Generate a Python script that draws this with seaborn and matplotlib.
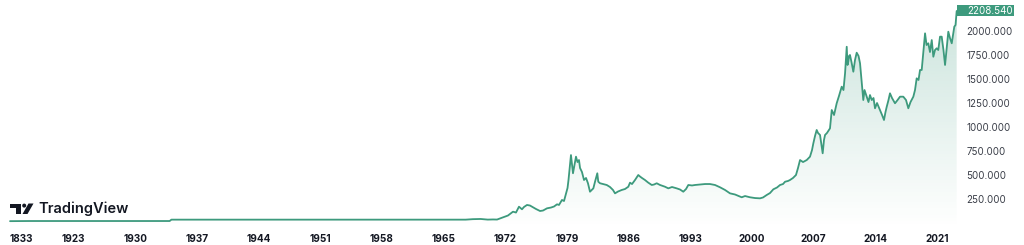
import numpy as np
import pandas as pd
import matplotlib
matplotlib.use("Agg")
import matplotlib.pyplot as plt
import matplotlib.transforms as mtransforms
from matplotlib.patches import Polygon, Rectangle, Circle
import seaborn as sns

# ---------------- data ----------------
years = [1833, 1860, 1900, 1923, 1933.9, 1934.1, 1950, 1967.5, 1968.3, 1969.2, 1970.0, 1970.6,
         1971.06, 1971.74, 1972.30, 1972.87, 1973.21, 1973.55, 1973.89, 1974.12, 1974.46, 1974.80,
         1975.03, 1975.48, 1975.94, 1976.28, 1976.73, 1977.18, 1977.53, 1977.87, 1978.09, 1978.43,
         1978.66, 1978.89, 1979.06, 1979.17, 1979.34, 1979.45, 1979.57, 1979.68, 1979.85, 1980.02,
         1980.19, 1980.36, 1980.48, 1980.70, 1980.93, 1981.16, 1981.38, 1981.61, 1981.80, 1981.99,
         1982.18, 1982.44, 1982.55, 1982.75, 1983.09, 1983.51, 1983.88, 1984.22, 1984.45, 1984.79,
         1985.21, 1985.58, 1985.96, 1986.15, 1986.38, 1986.72, 1987.09, 1987.29, 1987.51, 1987.85,
         1988.20, 1988.62, 1988.88, 1989.18, 1989.56, 1990.12, 1990.50, 1990.92, 1991.45, 1991.83,
         1992.20, 1992.51, 1992.77, 1993.19, 1993.53, 1994.10, 1994.67, 1995.23, 1995.80, 1996.37,
         1996.94, 1997.50, 1998.07, 1998.83, 1999.21, 1999.77, 2000.34, 2000.91, 2001.25, 2001.67,
         2002.04, 2002.42, 2002.84, 2003.18, 2003.52, 2003.75, 2004.09, 2004.31, 2004.65, 2004.99,
         2005.22, 2005.45, 2005.79, 2006.21, 2006.58, 2006.81, 2006.96, 2007.15, 2007.34, 2007.49,
         2007.72, 2007.89, 2008.02, 2008.17, 2008.29, 2008.51, 2008.85, 2009.05, 2009.31, 2009.61,
         2009.87, 2010.18, 2010.38, 2010.56, 2010.75, 2010.84, 2010.93, 2011.01, 2011.12, 2011.29,
         2011.50, 2011.69, 2011.88, 2012.09, 2012.26, 2012.43, 2012.63, 2012.77, 2013.02, 2013.22,
         2013.39, 2013.59, 2013.79, 2013.96, 2014.19, 2014.53, 2014.76, 2014.98, 2015.15, 2015.29,
         2015.49, 2015.66, 2015.89, 2016.23, 2016.52, 2016.80, 2017.17, 2017.48, 2017.74, 2017.99,
         2018.31, 2018.50, 2018.69, 2018.90, 2019.07, 2019.26, 2019.47, 2019.64, 2019.81, 2020.01,
         2020.20, 2020.40, 2020.58, 2020.77, 2020.96, 2021.14, 2021.34, 2021.53, 2021.73, 2021.91,
         2022.08, 2022.28, 2022.47, 2022.67, 2022.81, 2022.96, 2023.10, 2023.23]

prices = [19.4, 20.7, 20.7, 20.7, 20.7, 35, 35, 35, 40, 42, 35.5, 37,
          36, 59, 78, 118, 109, 170, 143, 167, 188, 182,
          170, 146, 125, 130, 153, 161, 172, 195, 188, 240,
          229, 309, 365, 448, 604, 708, 604, 518, 604, 691,
          635, 656, 573, 531, 448, 469, 414, 326, 344, 361,
          430, 518, 430, 414, 406, 396, 375, 344, 309, 328,
          344, 354, 378, 420, 406, 448, 500, 484, 469, 448,
          422, 396, 401, 414, 396, 378, 361, 375, 361, 349,
          326, 354, 396, 391, 396, 401, 406, 406, 396, 372,
          344, 309, 297, 268, 281, 268, 260, 257, 266, 292,
          312, 351, 370, 396, 406, 430, 438, 448, 469, 500,
          573, 656, 635, 656, 691, 760, 830, 906, 969, 938,
          917, 813, 726, 865, 917, 938, 986, 1177, 1125, 1247,
          1323, 1420, 1385, 1559, 1836, 1646, 1680, 1740, 1750, 1677,
          1576, 1698, 1774, 1740, 1664, 1490, 1281, 1385, 1316, 1260,
          1333, 1281, 1302, 1195, 1250, 1177, 1125, 1073, 1156, 1211,
          1281, 1351, 1302, 1247, 1281, 1316, 1316, 1281, 1195, 1260,
          1316, 1385, 1507, 1490, 1594, 1594, 1802, 1976, 1854, 1872,
          1781, 1906, 1732, 1802, 1820, 1802, 1941, 1941, 1802, 1646,
          1802, 1993, 1927, 1872, 1958, 2045, 2063, 2208.54]

tick_years = [1833, 1923, 1930, 1937, 1944, 1951, 1958, 1965, 1972, 1979,
              1986, 1993, 2000, 2007, 2014, 2021]
tick_labels = [str(y) for y in tick_years]
price_ticks = [250, 500, 750, 1000, 1250, 1500, 1750, 2000]
last_price = 2208.54

assert len(years) == len(prices)
df = pd.DataFrame({"year": years, "price": prices})

# ---------------- style ----------------
GREEN = "#3d9a7d"
TEXT = "#131722"
sns.set_style("white")
plt.rcParams["font.family"] = ["Inter", "DejaVu Sans"]

W, H = 1024, 245
fig = plt.figure(figsize=(W / 100, H / 100), dpi=100)
fig.patch.set_facecolor("white")
ax = fig.add_axes([0, 17 / H, 958 / W, 228 / H])

# compressed time axis before 1923 (TradingView bar-index style)
BREAK, K = 1923.0, 0.0802


def fwd(x):
    x = np.asarray(x, dtype=float)
    return np.where(x < BREAK, BREAK - (BREAK - x) * K, x)


def inv(t):
    t = np.asarray(t, dtype=float)
    return np.where(t < BREAK, BREAK - (BREAK - t) / K, t)


ax.set_xscale("function", functions=(fwd, inv))

YMIN, YMAX = -52, 2323
XMIN, XMAX = 1818.8, 2023.38

sns.lineplot(data=df, x="year", y="price", ax=ax, color=GREEN, lw=1.3,
             estimator=None, sort=False, zorder=3)

# gradient area fill
poly = ax.fill_between(df["year"], df["price"], YMIN, color="none", lw=0)
grad = np.zeros((256, 1, 4))
rgb = matplotlib.colors.to_rgb(GREEN)
grad[..., 0], grad[..., 1], grad[..., 2] = rgb
grad[:, 0, 3] = np.linspace(0.0, 0.28, 256)
img = ax.imshow(grad, extent=[0, 1, 0, 1], transform=ax.transAxes,
                origin="lower", aspect="auto", zorder=1, interpolation="bilinear")
clip = poly.get_paths()[0]
img.set_clip_path(clip, transform=ax.transData)

ax.set_xlim(XMIN, XMAX)
ax.set_ylim(YMIN, YMAX)
ax.set_aspect("auto")

for s in ax.spines.values():
    s.set_visible(False)

# x ticks
ax.set_xticks(tick_years)
ax.set_xticklabels(tick_labels, fontsize=7.2, fontweight="bold", color=TEXT)
ax.tick_params(axis="x", length=0, pad=4.0)
ax.get_xticklabels()[0].set_horizontalalignment("left")

# y ticks on the right
ax.yaxis.tick_right()
ax.set_yticks(price_ticks)
ax.set_yticklabels([f"{v:.3f}" for v in price_ticks], fontsize=7.0, color="#3a3e48")
ax.tick_params(axis="y", length=0, pad=6)
ax.set_xlabel("")
ax.set_ylabel("")
ax.grid(False)

# last price label
blend = mtransforms.blended_transform_factory(ax.transAxes, ax.transData)
box_h = 11 / 0.096
ax.add_patch(Rectangle((0.999, last_price - box_h / 2), 57 / 958, box_h,
                       transform=blend, clip_on=False, color=GREEN, lw=0, zorder=5))
ax.text(1.0 + 9 / 958, last_price, f"{last_price:.3f}", transform=blend,
        ha="left", va="center", fontsize=7.0, color="white", zorder=6, clip_on=False)

# TradingView watermark (pixel coordinates, top-down)
pix = mtransforms.Affine2D().scale(1 / W, -1 / H).translate(0, 1) + fig.transFigure
fig.patches.append(Polygon([(10, 203.5), (21, 203.5), (21, 214), (15.5, 214), (15.5, 207.5), (10, 207.5)],
                           closed=True, transform=pix, color=TEXT, lw=0))
fig.patches.append(Circle((24.2, 205.6), 2.0, transform=pix, color=TEXT, lw=0))
fig.patches.append(Polygon([(28.5, 203.5), (33.5, 203.5), (27.5, 214), (22.5, 214)],
                           closed=True, transform=pix, color=TEXT, lw=0))
fig.text(38 / W, 1 - 209 / H, "TradingView", fontsize=10.5, fontweight="semibold",
         color=TEXT, ha="left", va="center")

fig.savefig("out.png", dpi=100, facecolor="white")
